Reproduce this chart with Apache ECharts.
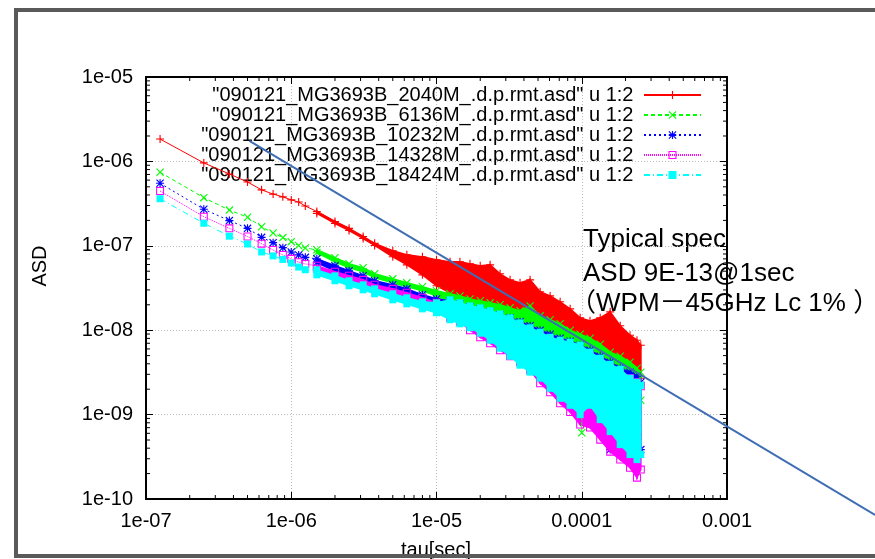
<!DOCTYPE html>
<html>
<head>
<meta charset="utf-8">
<title>ASD</title>
<script src="https://cdn.jsdelivr.net/npm/echarts@6/dist/echarts.min.js"></script>
<style>
  html, body { margin: 0; padding: 0; background: #fff; }
  #chart { width: 875px; height: 559px; }
</style>
</head>
<body>
<div id="chart"></div>
<script>
// legend names
var names = [
  '"090121_MG3693B_2040M_.d.p.rmt.asd" u 1:2',
  '"090121_MG3693B_6136M_.d.p.rmt.asd" u 1:2',
  '"090121_MG3693B_10232M_.d.p.rmt.asd" u 1:2',
  '"090121_MG3693B_14328M_.d.p.rmt.asd" u 1:2',
  '"090121_MG3693B_18424M_.d.p.rmt.asd" u 1:2'
];

// first points, one by one
var tau = [1.25e-7, 2.5e-7, 3.75e-7, 5e-7, 6.25e-7, 7.5e-7, 8.75e-7, 1e-6, 1.125e-6, 1.25e-6];
var redAsd = [1.84e-6, 9.6e-7, 7.1e-7, 5.7e-7, 4.6e-7, 4.1e-7, 3.8e-7, 3.5e-7, 3.3e-7, 2.96e-7];
var greenAsd = [7.43e-7, 3.72e-7, 2.65e-7, 2.18e-7, 1.68e-7, 1.42e-7, 1.25e-7, 1.12e-7, 1.01e-7, 9.4e-8];
var blueAsd = [5.5e-7, 2.71e-7, 1.99e-7, 1.61e-7, 1.26e-7, 1.09e-7, 9.5e-8, 8.45e-8, 7.8e-8, 7.3e-8];
var magentaAsd = [4.46e-7, 2.21e-7, 1.61e-7, 1.29e-7, 1.06e-7, 8.9e-8, 7.8e-8, 7.0e-8, 6.4e-8, 6.1e-8];
var cyanAsd = [3.61e-7, 1.85e-7, 1.3e-7, 1.05e-7, 8.45e-8, 7.6e-8, 6.9e-8, 6.25e-8, 5.6e-8, 5.2e-8];

// dense / noisy part: upper and lower edge of each cloud
var bandTau = [1.5e-6, 2e-6, 2.5e-6, 3.125e-6, 3.75e-6, 5e-6, 6.25e-6, 8e-6, 1e-5,
  1.24e-5, 1.45e-5, 1.7e-5, 2.0e-5, 2.34e-5, 2.74e-5, 3.21e-5, 3.76e-5, 4.41e-5, 5.17e-5,
  6.06e-5, 7.1e-5, 8.32e-5, 9.75e-5, 1.14e-4, 1.34e-4, 1.57e-4, 1.84e-4, 2.15e-4, 2.4e-4, 2.55e-4];
var redHi = [2.55e-7, 1.94e-7, 1.61e-7, 1.29e-7, 1.07e-7, 8.72e-8, 7.82e-8, 7.41e-8, 6.83e-8,
  6.46e-8, 6.46e-8, 6.12e-8, 5.79e-8, 5.95e-8, 4.66e-8, 3.95e-8, 3.64e-8, 3.95e-8, 2.85e-8,
  2.55e-8, 2.17e-8, 1.79e-8, 1.40e-8, 1.29e-8, 1.40e-8, 1.65e-8, 1.13e-8, 8.72e-9, 7.61e-9, 6.64e-9];
var redLo = [2.42e-7, 1.84e-7, 1.52e-7, 1.22e-7, 1.01e-7, 7.41e-8, 5.95e-8, 4.53e-8, 3.36e-8,
  2.78e-8, 2.55e-8, 2.35e-8, 2.17e-8, 1.94e-8, 1.74e-8, 1.56e-8, 1.40e-8, 1.26e-8, 1.13e-8,
  1.0e-8, 8.72e-9, 7.61e-9, 6.64e-9, 5.79e-9, 5.05e-9, 4.41e-9, 3.74e-9, 3.18e-9, 2.85e-9, 2.70e-9];
var greenHi = [8.97e-8, 7.21e-8, 6.12e-8, 5.49e-8, 4.66e-8, 4.06e-8, 3.64e-8, 3.27e-8, 2.93e-8,
  2.70e-8, 2.55e-8, 2.35e-8, 2.23e-8, 2.11e-8, 2.00e-8, 1.84e-8, 1.70e-8, 1.94e-8, 1.48e-8,
  1.33e-8, 1.19e-8, 1.0e-8, 8.97e-9, 8.04e-9, 6.83e-9, 5.49e-9, 4.92e-9, 4.18e-9, 3.55e-9, 3.18e-9];
var greenLo = [8.26e-8, 6.46e-8, 5.49e-8, 4.92e-8, 4.18e-8, 3.64e-8, 3.27e-8, 2.93e-8, 2.55e-8,
  2.17e-8, 2.00e-8, 1.84e-8, 1.70e-8, 1.56e-8, 1.40e-8, 1.26e-8, 1.13e-8, 1.0e-8, 8.97e-9,
  8.04e-9, 7.01e-9, 6.12e-9, 5.49e-9, 4.66e-9, 3.95e-9, 3.18e-9, 2.23e-9, 1.48e-9, 1.29e-9, 1.48e-9];
var blueHi = [7.01e-8, 5.79e-8, 5.05e-8, 4.41e-8, 3.85e-8, 3.45e-8, 3.09e-8, 2.63e-8, 2.35e-8,
  2.23e-8, 2.05e-8, 1.89e-8, 1.79e-8, 1.65e-8, 1.52e-8, 1.40e-8, 1.26e-8, 1.13e-8, 1.0e-8,
  8.97e-9, 8.04e-9, 7.41e-9, 6.64e-9, 5.79e-9, 4.92e-9, 4.18e-9, 3.55e-9, 3.18e-9, 2.85e-9, 2.42e-9];
var blueLo = [6.29e-8, 5.05e-8, 4.53e-8, 3.95e-8, 3.45e-8, 3.09e-8, 2.78e-8, 2.35e-8, 2.11e-8,
  1.74e-8, 1.56e-8, 1.40e-8, 1.26e-8, 1.13e-8, 9.47e-9, 7.61e-9, 6.12e-9, 4.92e-9, 4.18e-9,
  3.36e-9, 2.70e-9, 1.94e-9, 1.48e-9, 1.13e-9, 7.61e-10, 3.85e-10, 3.36e-10, 2.93e-10, 2.78e-10, 3.85e-10];
var magentaHi = [5.79e-8, 4.92e-8, 4.41e-8, 3.95e-8, 3.45e-8, 3.09e-8, 2.78e-8, 2.42e-8, 2.11e-8,
  2.00e-8, 1.89e-8, 1.74e-8, 1.61e-8, 1.48e-8, 1.36e-8, 1.26e-8, 1.13e-8, 1.0e-8, 8.97e-9,
  8.04e-9, 7.21e-9, 6.46e-9, 5.79e-9, 5.05e-9, 4.41e-9, 3.74e-9, 3.18e-9, 2.70e-9, 2.42e-9, 2.17e-9];
var magentaLo = [5.34e-8, 4.41e-8, 3.95e-8, 3.55e-8, 3.09e-8, 2.78e-8, 2.49e-8, 2.17e-8, 1.84e-8,
  1.40e-8, 1.26e-8, 1.0e-8, 8.26e-9, 7.01e-9, 5.79e-9, 4.92e-9, 4.18e-9, 3.36e-9, 2.35e-9,
  1.84e-9, 1.36e-9, 1.07e-9, 7.61e-10, 7.01e-10, 5.05e-10, 3.64e-10, 2.93e-10, 2.35e-10, 1.79e-10, 2.23e-10];
var cyanHi = [5.19e-8, 4.41e-8, 3.85e-8, 3.45e-8, 3.09e-8, 2.70e-8, 2.42e-8, 2.17e-8, 2.11e-8,
  2.29e-8, 2.11e-8, 1.94e-8, 1.84e-8, 1.70e-8, 1.56e-8, 1.40e-8, 1.22e-8, 1.07e-8, 9.47e-9,
  8.26e-9, 7.61e-9, 7.21e-9, 6.64e-9, 5.49e-9, 4.66e-9, 3.95e-9, 3.45e-9, 2.70e-9, 2.42e-9, 2.23e-9];
var cyanLo = [4.53e-8, 3.85e-8, 3.36e-8, 3.01e-8, 2.70e-8, 2.29e-8, 2.05e-8, 1.79e-8, 1.61e-8,
  1.33e-8, 1.19e-8, 1.07e-8, 9.21e-9, 7.61e-9, 6.12e-9, 4.92e-9, 3.85e-9, 3.18e-9, 2.70e-9,
  2.05e-9, 1.56e-9, 1.29e-9, 1.0e-9, 1.29e-9, 8.72e-10, 6.29e-10, 4.41e-10, 3.36e-10, 2.93e-10, 3.36e-10];

// stray green point near 1e-4
var greenOutTau = [1.0e-4, 1.0e-4];
var greenOutAsd = [5.5e-9, 6.1e-10];

// typical spec line (ASD 9E-13@1sec), runs to the right edge of the picture
var specTau = [5.15e-7, 1.044e-2];
var specAsd = [1.75e-6, 6.46e-11];

// axes
var xTickLabels = ['1e-07', '1e-06', '1e-05', '0.0001', '0.001'];
var yTickLabels = ['1e-10', '1e-09', '1e-08', '1e-07', '1e-06', '1e-05'];
var minorSteps = [2, 3, 4, 5, 6, 7, 8, 9];

var xMin = 1e-7, xMax = 1e-3, yMin = 1e-10, yMax = 1e-5;
var FONT = '"Liberation Sans", Arial, sans-serif';

var plusPath = 'path://M0,4.3H10V5.7H0Z M4.3,0H5.7V10H4.3Z';
var crossPath = 'path://M0,1L1,0L10,9L9,10Z M9,0L10,1L1,10L0,9Z';
var starPath = 'path://M0,4.3H10V5.7H0Z M4.3,0H5.7V10H4.3Z M0,1L1,0L10,9L9,10Z M9,0L10,1L1,10L0,9Z';
var boxPath = 'path://M0,0H10V10H0Z M1.3,1.3V8.7H8.7V1.3Z';

function minorValues(lo, hi) {
  var out = [];
  for (var e = Math.round(Math.log10(lo)); e < Math.round(Math.log10(hi)); e++) {
    minorSteps.forEach(function (m) { out.push(m * Math.pow(10, e)); });
  }
  return out;
}
var xMinor = minorValues(xMin, xMax);
var yMinor = minorValues(yMin, yMax);

function lineData(asd, hi, lo) {
  var d = tau.map(function (t, i) { return [t, asd[i]]; });
  bandTau.forEach(function (t, i) { d.push([t, hi[i]], [t, lo[i]]); });
  return d;
}

// filled cloud between upper and lower edge, one quad per gap
function bandSeries(hi, lo, color, z) {
  return {
    type: 'custom',
    z: z,
    silent: true,
    animation: false,
    data: bandTau.map(function (t, i) { return [t, hi[i], lo[i]]; }),
    encode: { x: 0, y: [1, 2] },
    renderItem: function (params, api) {
      var i = params.dataIndex;
      if (i >= bandTau.length - 1) return null;
      var a = api.coord([bandTau[i], hi[i]]);
      var b = api.coord([bandTau[i + 1], hi[i + 1]]);
      var c = api.coord([bandTau[i + 1], lo[i + 1]]);
      var d = api.coord([bandTau[i], lo[i]]);
      return {
        type: 'polygon',
        shape: { points: [a, b, c, d] },
        style: { fill: color, stroke: color, lineWidth: 1.5 }
      };
    }
  };
}

function markSeries(name, data, color, symbol, size, dash, z) {
  return {
    name: name,
    type: 'line',
    z: z,
    data: data,
    symbol: symbol,
    symbolSize: size,
    showSymbol: true,
    silent: true,
    animation: false,
    lineStyle: { color: color, width: 1, type: dash },
    itemStyle: { color: color }
  };
}

function tickLine(x1, y1, x2, y2) {
  return { type: 'line', shape: { x1: x1, y1: y1, x2: x2, y2: y2 }, style: { stroke: '#000', lineWidth: 1 } };
}

var minorTicks = {
  type: 'custom',
  silent: true,
  animation: false,
  z: 20,
  data: [[1e-5, 1e-8]],
  renderItem: function (params, api) {
    var kids = [];
    xMinor.forEach(function (v) {
      var b = api.coord([v, yMin]), t = api.coord([v, yMax]);
      kids.push(tickLine(b[0], b[1], b[0], b[1] - 4), tickLine(t[0], t[1], t[0], t[1] + 4));
    });
    yMinor.forEach(function (v) {
      var l = api.coord([xMin, v]), r = api.coord([xMax, v]);
      kids.push(tickLine(l[0], l[1], l[0] + 4, l[1]), tickLine(r[0], r[1], r[0] - 4, r[1]));
    });
    return { type: 'group', children: kids };
  }
};

function logLabel(labels, first) {
  return function (v) { return labels[Math.round(Math.log10(v)) - first]; };
}

function axisBase(extra) {
  var a = {
    type: 'log',
    logBase: 10,
    axisLine: { show: true, onZero: false, lineStyle: { color: '#000', width: 2 } },
    axisTick: { show: true, inside: true, length: 7, lineStyle: { color: '#000', width: 1 } },
    splitLine: { show: false },
    minorTick: { show: false }
  };
  for (var k in extra) a[k] = extra[k];
  return a;
}

var chart = echarts.init(document.getElementById('chart'), null, { renderer: 'canvas' });

chart.setOption({
  backgroundColor: '#fff',
  animation: false,
  grid: [
    { left: 146, top: 77, width: 581, height: 422, outerBoundsMode: 'none' },
    // same scale, stretched to the right / bottom edge for the spec line
    { left: 146, top: 77, width: 729, height: 438, outerBoundsMode: 'none' }
  ],
  legend: {
    data: names,
    orient: 'vertical',
    align: 'right',
    right: 173,
    top: 85,
    padding: 0,
    itemGap: 0,
    itemWidth: 57,
    itemHeight: 10,
    selectedMode: false,
    formatter: function (n) { return n + ' '; },
    textStyle: { fontFamily: FONT, fontSize: 20, lineHeight: 20, color: '#000' }
  },
  xAxis: [
    axisBase({
      gridIndex: 0, position: 'bottom', min: xMin, max: xMax,
      axisLabel: { show: true, margin: 12, color: '#000', fontFamily: FONT, fontSize: 20,
        formatter: logLabel(xTickLabels, -7) },
      splitLine: { show: true, lineStyle: { color: '#bdbdbd', width: 1, type: [1, 2] } }
    }),
    axisBase({ gridIndex: 0, position: 'top', min: xMin, max: xMax, axisLabel: { show: false } }),
    { gridIndex: 1, type: 'log', show: false, min: xMin, max: specTau[1] }
  ],
  yAxis: [
    axisBase({
      gridIndex: 0, position: 'left', min: yMin, max: yMax,
      axisLabel: { show: true, margin: 13, color: '#000', fontFamily: FONT, fontSize: 20,
        formatter: logLabel(yTickLabels, -10) },
      splitLine: { show: true, lineStyle: { color: '#bdbdbd', width: 1, type: [1, 2] } }
    }),
    axisBase({ gridIndex: 0, position: 'right', min: yMin, max: yMax, axisLabel: { show: false } }),
    { gridIndex: 1, type: 'log', show: false, min: specAsd[1], max: yMax }
  ],
  graphic: [
    { type: 'text', x: 40, y: 266, rotation: Math.PI / 2,
      style: { text: 'ASD', font: '20px ' + FONT, fill: '#000', align: 'center', verticalAlign: 'middle',
        textAlign: 'center', textVerticalAlign: 'middle' } },
    { type: 'text', x: 436, y: 550,
      style: { text: 'tau[sec]', font: '20px ' + FONT, fill: '#000', align: 'center', verticalAlign: 'middle',
        textAlign: 'center', textVerticalAlign: 'middle' } },
    { type: 'text', x: 583, y: 240,
      style: { text: 'Typical spec', font: '26px "Liberation Sans", "Noto Sans CJK JP"', fill: '#000',
        align: 'left', verticalAlign: 'middle', textAlign: 'left', textVerticalAlign: 'middle' } },
    { type: 'text', x: 583, y: 274,
      style: { text: 'ASD 9E-13@1sec', font: '26px "Liberation Sans", "Noto Sans CJK JP"', fill: '#000',
        align: 'left', verticalAlign: 'middle', textAlign: 'left', textVerticalAlign: 'middle' } },
    { type: 'text', x: 570, y: 304,
      style: { text: '（WPM－45GHz Lc 1% ）', font: '26px "Liberation Sans", "Noto Sans CJK JP"', fill: '#000',
        align: 'left', verticalAlign: 'middle', textAlign: 'left', textVerticalAlign: 'middle' } },
    { type: 'rect', z: 100, shape: { x: 16, y: 10, width: 900, height: 546 },
      style: { fill: 'none', stroke: '#5a5a5a', lineWidth: 4 } }
  ],
  series: [
    bandSeries(redHi, redLo, '#ff0000', 5),
    markSeries(names[0], lineData(redAsd, redHi, redLo), '#ff0000', plusPath, 8, 'solid', 6),
    bandSeries(greenHi, greenLo, '#00ff00', 7),
    markSeries(names[1], lineData(greenAsd, greenHi, greenLo), '#00ff00', crossPath, 8, [4, 3], 8),
    bandSeries(blueHi, blueLo, '#0000ff', 9),
    markSeries(names[2], lineData(blueAsd, blueHi, blueLo), '#0000ff', starPath, 8, [2, 3], 10),
    bandSeries(magentaHi, magentaLo, '#ff00ff', 11),
    markSeries(names[3], lineData(magentaAsd, magentaHi, magentaLo), '#ff00ff', boxPath, 8, [1, 1], 12),
    {
      type: 'line', z: 12, silent: true, animation: false, symbol: crossPath, symbolSize: 8,
      data: greenOutTau.map(function (t, i) { return [t, greenOutAsd[i]]; }),
      lineStyle: { color: '#00ff00', width: 1 }, itemStyle: { color: '#00ff00' }
    },
    bandSeries(cyanHi, cyanLo, '#00ffff', 13),
    markSeries(names[4], lineData(cyanAsd, cyanHi, cyanLo), '#00ffff', 'rect', 7, [6, 3, 1, 3], 14),
    minorTicks,
    {
      type: 'line', silent: true, animation: false, symbol: 'none', z: 21,
      xAxisIndex: 2, yAxisIndex: 2,
      data: specTau.map(function (t, i) { return [t, specAsd[i]]; }),
      lineStyle: { color: '#3e6db4', width: 2 }
    }
  ]
});
</script>
</body>
</html>
